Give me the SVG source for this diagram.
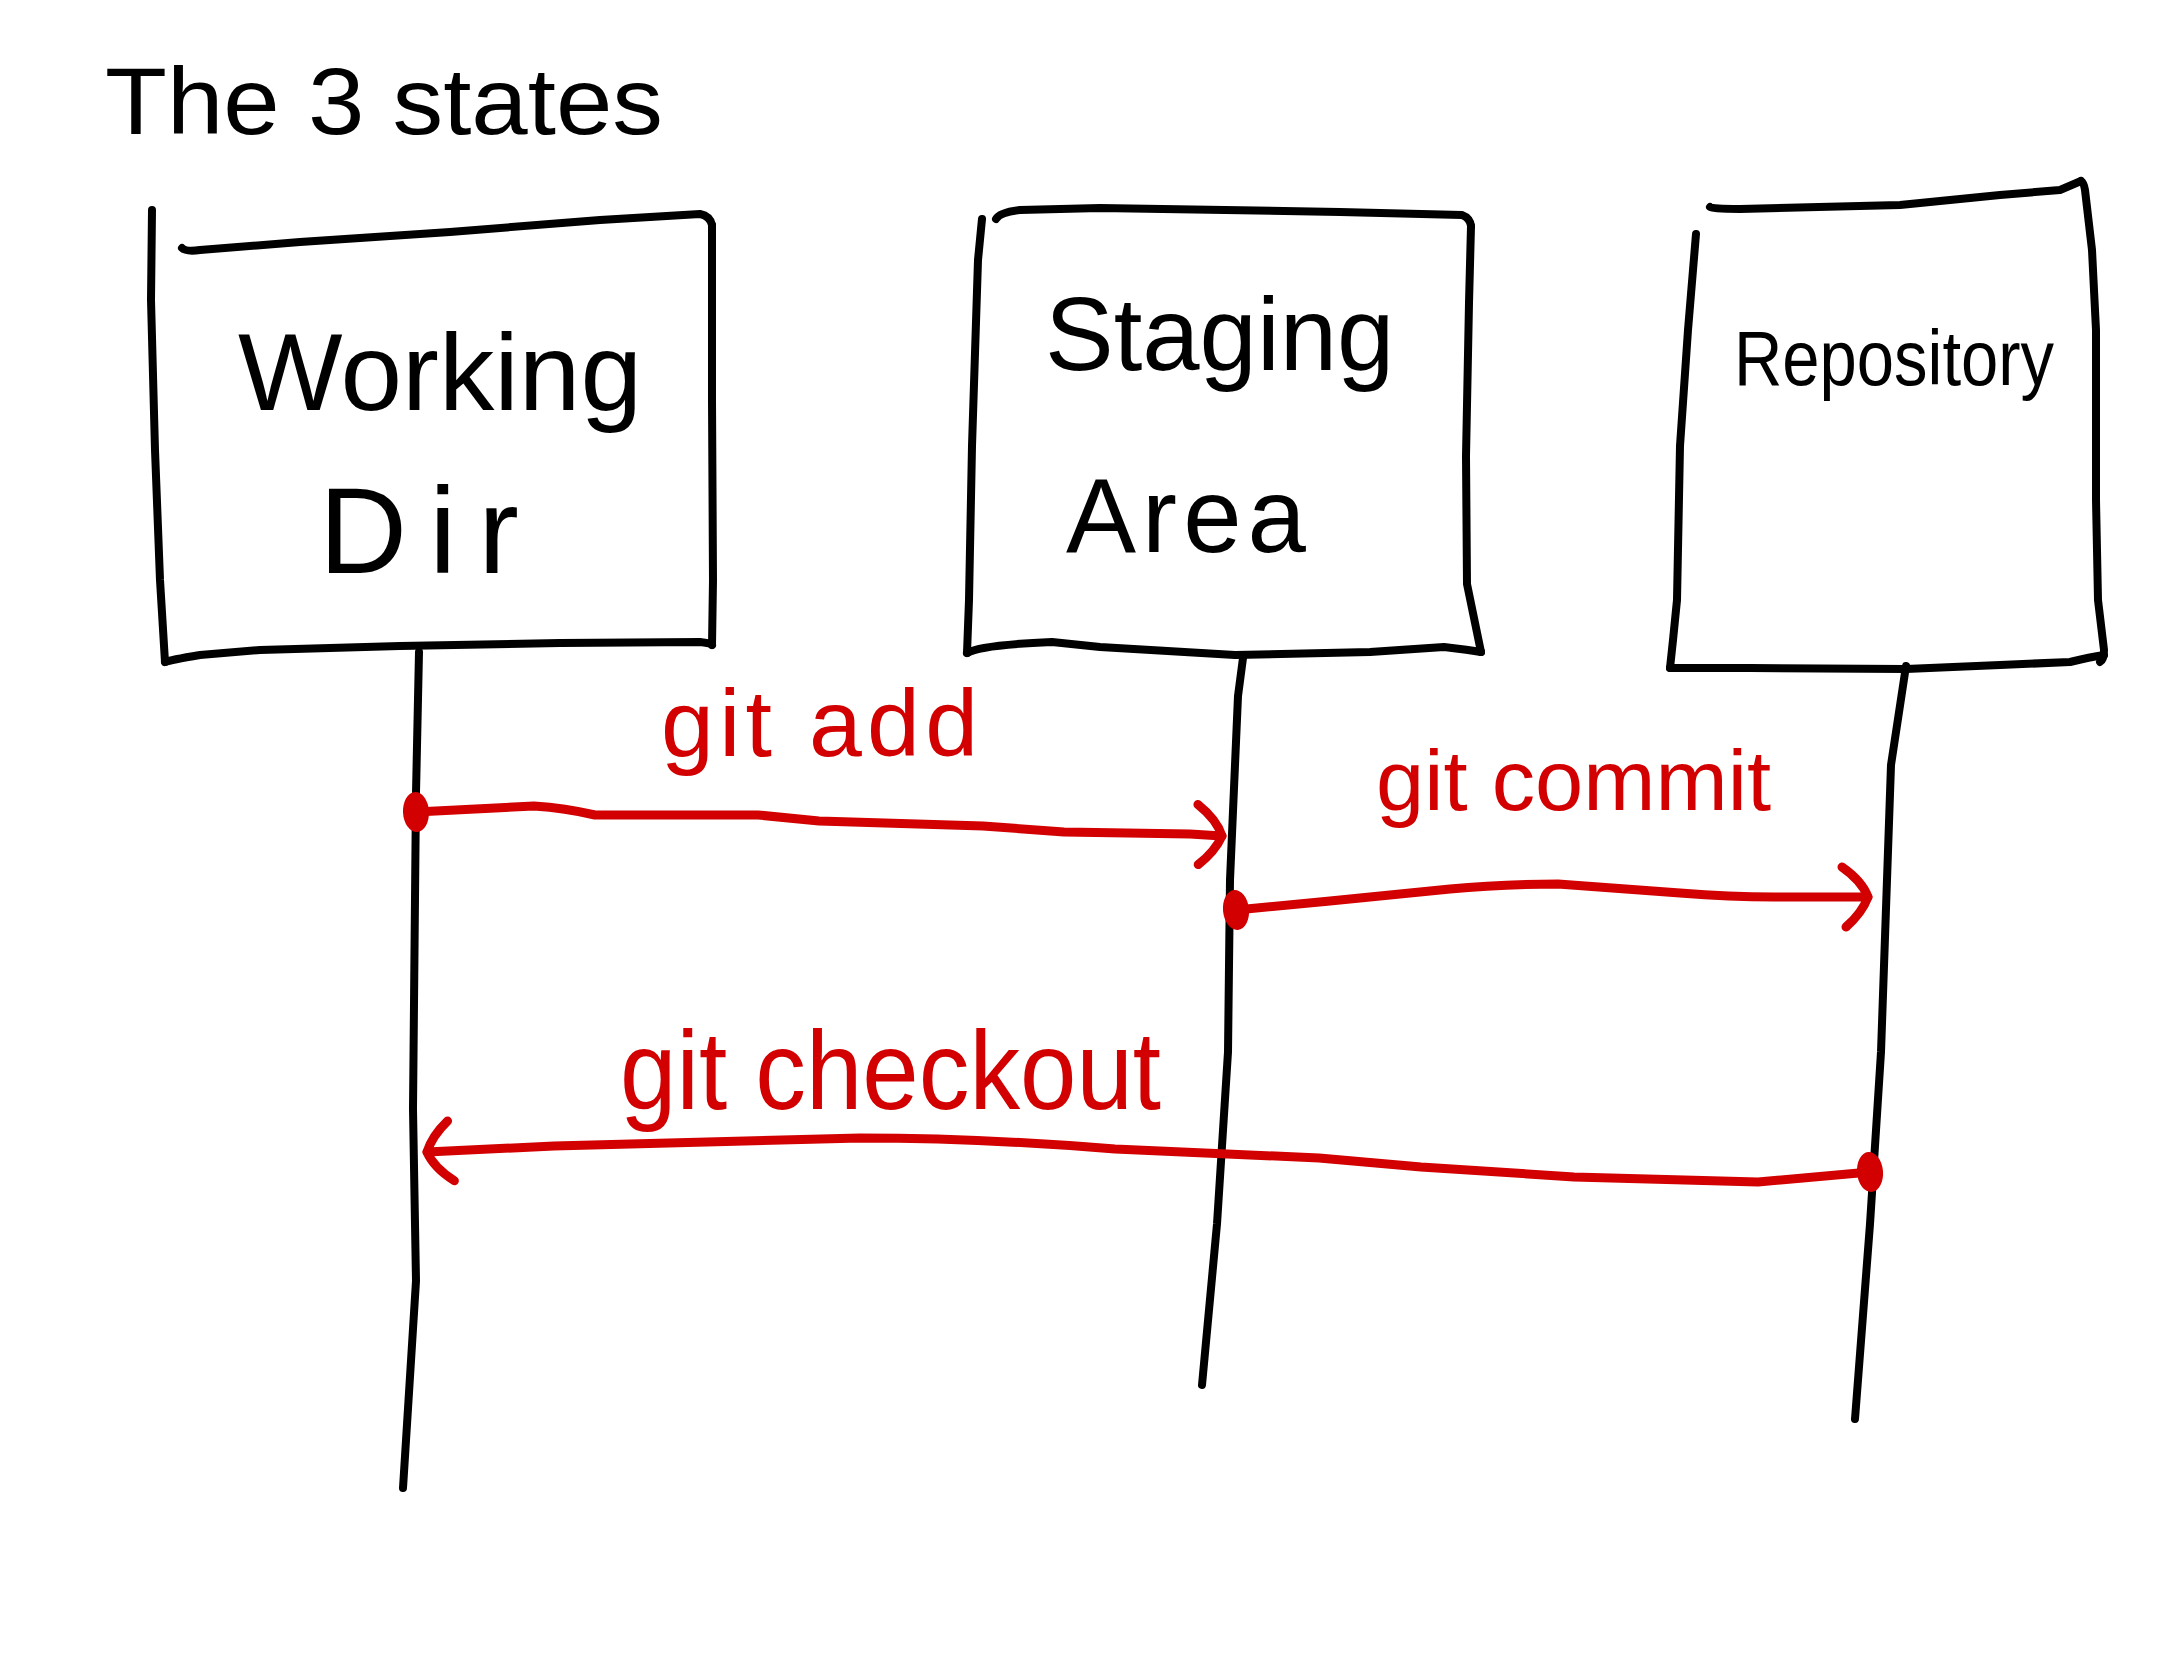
<svg xmlns="http://www.w3.org/2000/svg" width="2157" height="1668" viewBox="0 0 2157 1668">
<style>
.ink{fill:none;stroke:#000;stroke-width:8;stroke-linecap:round;stroke-linejoin:round}
.red{fill:none;stroke:#d20000;stroke-width:9;stroke-linecap:round;stroke-linejoin:round}
.bt{font-family:"Liberation Sans","DejaVu Sans",sans-serif;fill:#000}
.rt{font-family:"Liberation Sans","DejaVu Sans",sans-serif;fill:#d20000}
</style>
<defs>
<marker id="head" markerUnits="userSpaceOnUse" orient="auto" markerWidth="60" markerHeight="80" refX="40" refY="40" viewBox="0 0 60 80">
<path d="M14 10 Q34 24 40 40 Q34 56 18 70" fill="none" stroke="#d20000" stroke-width="9" stroke-linecap="round" stroke-linejoin="round"/>
</marker>
<marker id="dot" markerUnits="userSpaceOnUse" orient="auto" markerWidth="40" markerHeight="50" refX="20" refY="25" viewBox="0 0 40 50">
<ellipse cx="20" cy="25" rx="13" ry="20" fill="#d20000"/>
</marker>
</defs>
<rect width="2157" height="1668" fill="#fff"/>
<g id="title">
<text class="bt" x="105" y="134" font-size="95" textLength="558" lengthAdjust="spacingAndGlyphs">The 3 states</text>
</g>
<g id="node-working">
<path class="ink" d="M152,210 L151,300 L155,450 L160,580 L165,662"/>
<path class="ink" d="M182,248 Q186,252 200,250 L300,242 L450,232 L600,220 L700,214 Q710,216 712,225"/>
<path class="ink" d="M712,225 L712,400 L713,580 L712,645"/>
<path class="ink" d="M165,662 Q170,660 200,655 L260,650 L400,646 L560,643 L700,642 Q710,643 712,645"/>
<text class="bt" x="238" y="410" font-size="110" textLength="404" lengthAdjust="spacingAndGlyphs">Working</text>
<text class="bt" x="319" y="573" font-size="122" textLength="200" lengthAdjust="spacing">Dir</text>
</g>
<g id="node-staging">
<path class="ink" d="M982,219 L978,260 L972,446 L969,600 L967,653"/>
<path class="ink" d="M996,219 Q1000,212 1020,210 L1100,208 L1340,212 L1462,215 Q1470,218 1471,226"/>
<path class="ink" d="M1471,226 L1469,303 L1466,456 L1467,584 L1481,652"/>
<path class="ink" d="M967,653 Q980,645 1052,642 L1100,647 L1235,655 L1370,652 L1444,647 Q1470,650 1481,652"/>
<text class="bt" x="1045" y="370" font-size="103">Staging</text>
<text class="bt" x="1066" y="552" font-size="105" textLength="240" lengthAdjust="spacing">Area</text>
</g>
<g id="node-repository">
<path class="ink" d="M1696,234 L1688,330 L1680,446 L1677,600 L1673,640 L1670,668"/>
<path class="ink" d="M1710,207 Q1712,209 1740,209 L1900,205 L2000,195 L2060,190 L2081,181"/>
<path class="ink" d="M2081,181 Q2084,183 2085,190 L2092,250 L2096,330 L2096,500 L2098,600 L2104,650 Q2104,660 2100,662"/>
<path class="ink" d="M1670,668 L1750,668 L1906,669 L2000,665 L2070,662 Q2090,657 2104,655"/>
<text class="bt" x="1734" y="385" font-size="78" textLength="320" lengthAdjust="spacingAndGlyphs">Repository</text>
</g>
<g id="lifelines">
<path class="ink" d="M419,652 L416,793 L413,1109 L416,1281 L403,1488"/>
<path class="ink" d="M1243,658 L1238,696 L1230,880 L1228,1052 L1217,1224 L1202,1385"/>
<path class="ink" d="M1906,666 L1891,765 L1881,1052 L1870,1224 L1855,1419"/>
</g>
<g id="connectors">
<path class="red" marker-start="url(#dot)" marker-end="url(#head)" d="M416,812 L534,806 Q565,808 595,815 L758,815 L819,821 L983,826 L1064,832 L1190,834 L1222,836"/>
<path class="red" marker-start="url(#dot)" marker-end="url(#head)" d="M1236,910 L1330,901 L1450,889 Q1500,884 1558,884 L1680,893 Q1730,897 1774,897 L1868,897"/>
<path class="red" marker-start="url(#dot)" marker-end="url(#head)" d="M1870,1172 L1758,1182 L1574,1177 L1421,1167 L1319,1158 L1115,1149 Q980,1138 860,1138 L554,1146 L427,1152"/>
<text class="rt" x="661" y="756" font-size="95" textLength="317" lengthAdjust="spacing">git add</text>
<text class="rt" x="1376" y="810" font-size="85" textLength="395" lengthAdjust="spacingAndGlyphs">git commit</text>
<text class="rt" x="620" y="1109" font-size="112" textLength="541" lengthAdjust="spacingAndGlyphs">git checkout</text>
</g>
</svg>
